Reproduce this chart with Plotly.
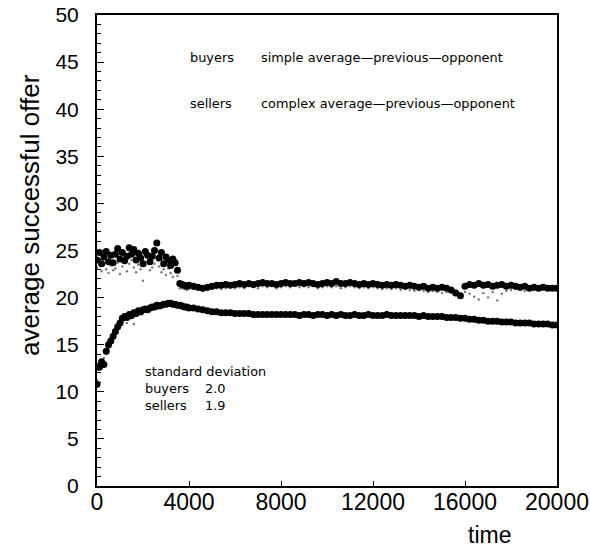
import plotly.graph_objects as go

# ---------------- data ----------------
t_early = list(range(0, 4001, 100))        # 41 points
t_late = list(range(4200, 20001, 200))     # 80 points
time = t_early + t_late

upper_big_early = [24.0, 24.8, 23.6, 24.3, 24.9, 23.8, 24.5, 23.7, 24.6, 25.2,
                   24.1, 24.8, 23.9, 24.4, 25.3, 24.6, 25.1, 24.0, 24.7, 24.2,
                   23.6, 24.9, 24.5, 23.8, 24.4, 25.0, 25.8, 24.2, 24.8, 23.6,
                   24.3, 24.0, 23.4, 24.1, 23.7, 22.9, 21.5, 21.4, 21.3, 21.2,
                   21.3]
upper_big_late = [21.2, 21.1, 21.0, 21.1, 21.2, 21.3, 21.3, 21.4, 21.3, 21.4,
                  21.5, 21.4, 21.5, 21.4, 21.5, 21.6, 21.5, 21.5, 21.4, 21.5,
                  21.6, 21.5, 21.5, 21.6, 21.5, 21.6, 21.5, 21.4, 21.5, 21.6,
                  21.5, 21.7, 21.5, 21.5, 21.6, 21.5, 21.4, 21.5, 21.4, 21.5,
                  21.4, 21.3, 21.4, 21.3, 21.4, 21.3, 21.2, 21.3, 21.2, 21.1,
                  21.2, 21.0, 21.1, 21.0, 21.1, 21.0, 20.8, 20.5, 20.2, 21.2,
                  21.4, 21.3, 21.5, 21.3, 21.4, 21.2, 21.3, 21.4, 21.2, 21.3,
                  21.2, 21.1, 21.2, 21.0, 21.1, 21.0, 21.1, 21.0, 21.0, 21.0]

upper_small_early = [23.2, 23.8, 22.8, 23.5, 23.0, 22.6, 23.4, 22.9, 23.1, 23.7,
                     22.5, 23.3, 23.9, 22.8, 23.6, 24.0, 23.2, 22.7, 23.5, 23.0,
                     21.8, 23.4, 23.8, 22.9, 23.2, 23.6, 24.1, 23.3, 22.7, 23.0,
                     22.4, 23.1, 22.6, 22.2, 22.8, 22.3, 21.0, 21.0, 20.9, 20.8,
                     20.9]
upper_small_late = [20.9, 20.8, 20.7, 20.8, 20.9, 21.0, 20.9, 21.0, 21.1, 21.0,
                    21.1, 21.0, 21.2, 21.1, 21.0, 21.2, 21.1, 21.2, 21.0, 21.1,
                    21.2, 21.1, 21.3, 21.1, 21.2, 21.1, 21.2, 21.0, 21.1, 21.2,
                    21.1, 21.2, 21.0, 21.1, 21.2, 21.1, 21.0, 21.1, 21.0, 21.1,
                    21.0, 20.9, 21.0, 20.9, 21.0, 20.8, 20.9, 20.8, 20.7, 20.8,
                    20.7, 20.6, 20.7, 20.6, 20.5, 20.6, 20.5, 20.3, 20.1, 20.6,
                    20.4, 20.1, 19.8, 20.5, 20.0, 20.6, 19.7, 20.4, 20.7, 20.8,
                    20.9, 20.8, 20.7, 20.9, 20.8, 21.0, 20.9, 21.1, 21.2, 21.1]

lower_big_early = [10.8, 12.6, 13.2, 12.9, 14.3, 15.0, 15.4, 15.9, 16.4, 16.9,
                   17.3, 17.8, 18.0, 17.9, 18.2, 18.1, 18.4, 18.3, 18.6, 18.5,
                   18.7, 18.8, 18.7, 18.9, 19.0, 19.0, 19.2, 19.1, 19.2, 19.3,
                   19.3, 19.4, 19.4, 19.3, 19.3, 19.2, 19.2, 19.1, 19.0, 19.0,
                   18.9]
lower_big_late = [18.9, 18.8, 18.7, 18.6, 18.5, 18.5, 18.4, 18.4, 18.4, 18.3,
                  18.3, 18.3, 18.3, 18.2, 18.2, 18.2, 18.2, 18.2, 18.2, 18.2,
                  18.2, 18.2, 18.2, 18.1, 18.2, 18.2, 18.1, 18.2, 18.2, 18.1,
                  18.2, 18.1, 18.2, 18.1, 18.1, 18.2, 18.1, 18.1, 18.2, 18.1,
                  18.1, 18.1, 18.2, 18.1, 18.1, 18.1, 18.1, 18.1, 18.1, 18.0,
                  18.1, 18.0, 18.0, 18.0, 18.0, 17.9, 17.9, 17.9, 17.8, 17.8,
                  17.7, 17.7, 17.6, 17.6, 17.5, 17.5, 17.5, 17.4, 17.4, 17.4,
                  17.3, 17.3, 17.3, 17.3, 17.2, 17.2, 17.2, 17.2, 17.1, 17.1]

lower_small_early = [11.2, 13.0, 12.5, 13.6, 14.0, 14.6, 15.2, 15.6, 16.1, 16.6,
                     17.0, 17.5, 17.7, 17.3, 18.0, 17.8, 17.2, 18.1, 18.4, 18.2,
                     18.5, 18.6, 18.5, 18.8, 18.7, 18.9, 19.0, 19.0, 19.1, 19.1,
                     19.2, 19.2, 19.3, 19.2, 19.2, 19.1, 19.0, 19.0, 18.9, 18.9,
                     18.8]
lower_small_late = [18.8, 18.7, 18.6, 18.6, 18.4, 18.4, 18.4, 18.3, 18.3, 18.3,
                    18.2, 18.3, 18.2, 18.2, 18.1, 18.2, 18.1, 18.2, 18.1, 18.1,
                    18.1, 18.2, 18.1, 18.1, 18.1, 18.1, 18.1, 18.1, 18.1, 18.1,
                    18.1, 18.1, 18.1, 18.0, 18.1, 18.1, 18.1, 18.0, 18.1, 18.1,
                    18.0, 18.1, 18.1, 18.0, 18.1, 18.0, 18.0, 18.1, 18.0, 18.0,
                    18.0, 17.9, 18.0, 17.9, 17.9, 17.8, 17.8, 17.8, 17.7, 17.6,
                    17.6, 17.5, 17.6, 17.4, 17.4, 17.5, 17.3, 17.4, 17.3, 17.3,
                    17.2, 17.3, 17.2, 17.2, 17.1, 17.2, 17.1, 17.1, 17.1, 17.0]

upper_big = upper_big_early + upper_big_late
upper_small = upper_small_early + upper_small_late
lower_big = lower_big_early + lower_big_late
lower_small = lower_small_early + lower_small_late

x_ticks = [0, 4000, 8000, 12000, 16000, 20000]
y_ticks = [0, 5, 10, 15, 20, 25, 30, 35, 40, 45, 50]

# ---------------- figure ----------------
fig = go.Figure()
big = dict(size=7, color="black", line=dict(width=0))
small = dict(size=2.5, color="#7a7a7a", line=dict(width=0))
fig.add_trace(go.Scatter(x=time, y=upper_small, mode="markers", marker=small))
fig.add_trace(go.Scatter(x=time, y=lower_small, mode="markers", marker=small))
fig.add_trace(go.Scatter(x=time, y=upper_big, mode="markers", marker=big))
fig.add_trace(go.Scatter(x=time, y=lower_big, mode="markers", marker=big))

L, R, T, B = 97, 33, 15, 63
W, H = 590, 549
pw, ph = W - L - R, H - T - B

def px(x):
    return (x - L) / pw

def py(y):
    return (H - B - y) / ph

xtick_font = dict(family="Liberation Sans, Arial, sans-serif", size=23, color="black")
ytick_font = dict(family="Liberation Sans, Arial, sans-serif", size=21, color="black")
txt_font = dict(family="DejaVu Sans, sans-serif", size=12.9, color="black")

fig.update_layout(
    template="none",
    width=W, height=H,
    margin=dict(l=L, r=R, t=T, b=B, autoexpand=False),
    paper_bgcolor="white", plot_bgcolor="white",
    showlegend=False,
    xaxis=dict(range=[0, 20000], tickvals=x_ticks, ticktext=[str(v) for v in x_ticks],
               ticks="inside", ticklen=5, tickwidth=1, tickcolor="black",
               showline=True, linecolor="black", linewidth=2, mirror=True,
               showgrid=False, zeroline=False, tickfont=xtick_font,
               ticklabelstandoff=-6, automargin=False),
    yaxis=dict(range=[0, 50], tickvals=y_ticks, ticktext=[str(v) for v in y_ticks],
               ticks="inside", ticklen=7, tickwidth=1, tickcolor="black",
               minor=dict(dtick=1, ticks="inside", ticklen=4, tickcolor="black", showgrid=False),
               showline=True, linecolor="black", linewidth=2, mirror=True,
               showgrid=False, zeroline=False, tickfont=ytick_font,
               ticklabelstandoff=12, automargin=False),
)

def ann(x, y, text, font=txt_font, xanchor="left", **kw):
    fig.add_annotation(x=x, y=y, xref="paper", yref="paper", text=text, showarrow=False,
                       xanchor=xanchor, yanchor="middle", font=font, **kw)

ann(px(188), py(58), "buyers")
ann(px(259), py(58), "simple average\u2014previous\u2014opponent")
ann(px(188), py(104), "sellers")
ann(px(259), py(104), "complex average\u2014previous\u2014opponent")
ann(px(143), py(371), "standard deviation")
ann(px(143), py(388), "buyers")
ann(px(228), py(388), "2.0", xanchor="right")
ann(px(143), py(405), "sellers")
ann(px(228), py(405), "1.9", xanchor="right")

ytitle_font = dict(family="Liberation Sans, Arial, sans-serif", size=26, color="black")
xtitle_font = dict(family="Liberation Sans, Arial, sans-serif", size=23, color="black")
fig.add_annotation(x=px(30), y=py(215), xref="paper", yref="paper", text="average successful offer",
                   showarrow=False, textangle=-90, xanchor="center", yanchor="middle", font=ytitle_font)
fig.add_annotation(x=px(489), y=py(535), xref="paper", yref="paper", text="time",
                   showarrow=False, xanchor="center", yanchor="middle", font=xtitle_font)

fig.write_html("out.html")
